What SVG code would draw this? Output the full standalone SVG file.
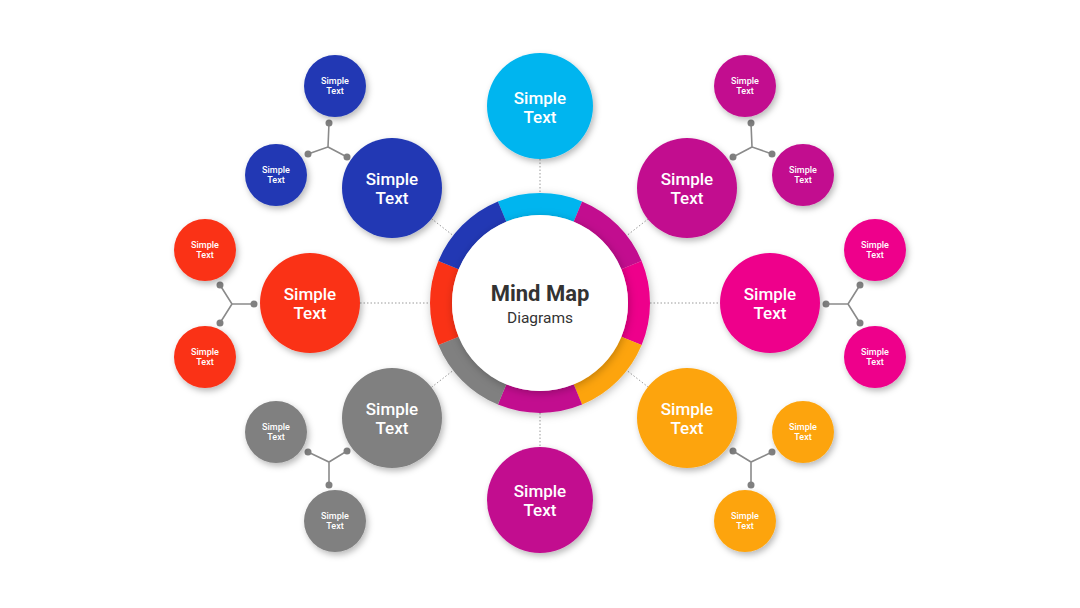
<svg xmlns="http://www.w3.org/2000/svg" width="1080" height="608" viewBox="0 0 1080 608">
<defs>
<filter id="sh" x="-30%" y="-30%" width="160%" height="160%">
<feDropShadow dx="2" dy="3" stdDeviation="3" flood-color="#000" flood-opacity="0.28"/>
</filter>
<filter id="sh2" x="-30%" y="-30%" width="160%" height="160%">
<feDropShadow dx="1" dy="2" stdDeviation="4" flood-color="#000" flood-opacity="0.25"/>
</filter>
<style>
.dot{stroke:#9a9a9a;stroke-width:1;stroke-dasharray:1.5 2;fill:none}
.yl{stroke:#8a8a8a;stroke-width:1.6;fill:none}
.jd{fill:#808080}
.big,.sm{filter:url(#sh)}
.t{font-family:Roboto,"Liberation Sans",sans-serif;font-weight:500;fill:#fff;text-anchor:middle}
.tb{font-size:17px}
.ts{font-size:9px}
.seg{fill:none;stroke-width:22}
.blue{fill:#2139B4}.cyan{fill:#00B5EF}.purp{fill:#C2118F}.pink{fill:#EE058B}.orng{fill:#FDA40C}.red{fill:#FA3119}.gray{fill:#808080}
</style>
</defs>
<rect width="1080" height="608" fill="#fff"/>
<g id="connectors">
<line class="dot" x1="540" y1="159" x2="540" y2="193"/>
<line class="dot" x1="540" y1="413" x2="540" y2="447"/>
<line class="dot" x1="360" y1="303" x2="430" y2="303"/>
<line class="dot" x1="650" y1="303" x2="720" y2="303"/>
<line class="dot" x1="431.5" y1="218.7" x2="453.1" y2="235.5"/>
<line class="dot" x1="648.5" y1="218.7" x2="626.9" y2="235.5"/>
<line class="dot" x1="431.5" y1="387.3" x2="453.1" y2="370.5"/>
<line class="dot" x1="648.5" y1="387.3" x2="626.9" y2="370.5"/>
<path class="yl" d="M329 123 L328 147 L308 154 M328 147 L347 157"/>
<circle class="jd" cx="329" cy="123" r="3.5"/><circle class="jd" cx="308" cy="154" r="3.5"/><circle class="jd" cx="347" cy="157" r="3.5"/>
<path class="yl" d="M751 123 L752 147 L772 154 M752 147 L733 157"/>
<circle class="jd" cx="751" cy="123" r="3.5"/><circle class="jd" cx="772" cy="154" r="3.5"/><circle class="jd" cx="733" cy="157" r="3.5"/>
<path class="yl" d="M220 285 L232 304 L220 323 M232 304 L254 304"/>
<circle class="jd" cx="220" cy="285" r="3.5"/><circle class="jd" cx="220" cy="323" r="3.5"/><circle class="jd" cx="254" cy="304" r="3.5"/>
<path class="yl" d="M860 285 L848 304 L860 323 M848 304 L826 304"/>
<circle class="jd" cx="860" cy="285" r="3.5"/><circle class="jd" cx="860" cy="323" r="3.5"/><circle class="jd" cx="826" cy="304" r="3.5"/>
<path class="yl" d="M733 451 L751 462 L772 452 M751 462 L751 485"/>
<circle class="jd" cx="733" cy="451" r="3.5"/><circle class="jd" cx="772" cy="452" r="3.5"/><circle class="jd" cx="751" cy="485" r="3.5"/>
<path class="yl" d="M347 451 L329 462 L308 452 M329 462 L329 485"/>
<circle class="jd" cx="347" cy="451" r="3.5"/><circle class="jd" cx="308" cy="452" r="3.5"/><circle class="jd" cx="329" cy="485" r="3.5"/>
</g>
<g id="center">
<g filter="url(#sh2)">
<path class="seg" stroke="#00B5EF" d="M502.11 211.54 A99 99 0 0 1 577.89 211.54"/>
<path class="seg" stroke="#C2118F" d="M577.89 211.54 A99 99 0 0 1 631.46 265.11"/>
<path class="seg" stroke="#EE058B" d="M631.46 265.11 A99 99 0 0 1 631.46 340.89"/>
<path class="seg" stroke="#FDA40C" d="M631.46 340.89 A99 99 0 0 1 577.89 394.46"/>
<path class="seg" stroke="#C2118F" d="M577.89 394.46 A99 99 0 0 1 502.11 394.46"/>
<path class="seg" stroke="#808080" d="M502.11 394.46 A99 99 0 0 1 448.54 340.89"/>
<path class="seg" stroke="#FA3119" d="M448.54 340.89 A99 99 0 0 1 448.54 265.11"/>
<path class="seg" stroke="#2139B4" d="M448.54 265.11 A99 99 0 0 1 502.11 211.54"/>
</g>
<circle cx="540" cy="303" r="88" fill="#fff" filter="url(#sh2)"/>
<text x="540" y="301" font-family="Roboto,'Liberation Sans',sans-serif" font-weight="700" font-size="22" fill="#333" text-anchor="middle">Mind Map</text>
<text x="540" y="323" font-family="Roboto,'Liberation Sans',sans-serif" font-size="15.5" fill="#333" text-anchor="middle">Diagrams</text>
</g>
<g id="n-top"><circle class="big cyan" cx="540" cy="106" r="53"/><text class="t tb" x="540" y="104">Simple</text><text class="t tb" x="540" y="123">Text</text></g>
<g id="n-bottom"><circle class="big purp" cx="540" cy="500" r="53"/><text class="t tb" x="540" y="497">Simple</text><text class="t tb" x="540" y="516">Text</text></g>
<g id="n-tl"><circle class="big blue" cx="392" cy="188" r="50"/><text class="t tb" x="392" y="185">Simple</text><text class="t tb" x="392" y="204">Text</text></g>
<g id="n-tr"><circle class="big purp" cx="687" cy="188" r="50"/><text class="t tb" x="687" y="185">Simple</text><text class="t tb" x="687" y="204">Text</text></g>
<g id="n-l"><circle class="big red" cx="310" cy="303" r="50"/><text class="t tb" x="310" y="300">Simple</text><text class="t tb" x="310" y="319">Text</text></g>
<g id="n-r"><circle class="big pink" cx="770" cy="303" r="50"/><text class="t tb" x="770" y="300">Simple</text><text class="t tb" x="770" y="319">Text</text></g>
<g id="n-bl"><circle class="big gray" cx="392" cy="418" r="50"/><text class="t tb" x="392" y="415">Simple</text><text class="t tb" x="392" y="434">Text</text></g>
<g id="n-br"><circle class="big orng" cx="687" cy="418" r="50"/><text class="t tb" x="687" y="415">Simple</text><text class="t tb" x="687" y="434">Text</text></g>
<g id="s-tl1"><circle class="sm blue" cx="335" cy="86" r="31"/><text class="t ts" x="335" y="84">Simple</text><text class="t ts" x="335" y="94">Text</text></g>
<g id="s-tl2"><circle class="sm blue" cx="276" cy="175" r="31"/><text class="t ts" x="276" y="173">Simple</text><text class="t ts" x="276" y="183">Text</text></g>
<g id="s-tr1"><circle class="sm purp" cx="745" cy="86" r="31"/><text class="t ts" x="745" y="84">Simple</text><text class="t ts" x="745" y="94">Text</text></g>
<g id="s-tr2"><circle class="sm purp" cx="803" cy="175" r="31"/><text class="t ts" x="803" y="173">Simple</text><text class="t ts" x="803" y="183">Text</text></g>
<g id="s-l1"><circle class="sm red" cx="205" cy="250" r="31"/><text class="t ts" x="205" y="248">Simple</text><text class="t ts" x="205" y="258">Text</text></g>
<g id="s-l2"><circle class="sm red" cx="205" cy="357" r="31"/><text class="t ts" x="205" y="355">Simple</text><text class="t ts" x="205" y="365">Text</text></g>
<g id="s-r1"><circle class="sm pink" cx="875" cy="250" r="31"/><text class="t ts" x="875" y="248">Simple</text><text class="t ts" x="875" y="258">Text</text></g>
<g id="s-r2"><circle class="sm pink" cx="875" cy="357" r="31"/><text class="t ts" x="875" y="355">Simple</text><text class="t ts" x="875" y="365">Text</text></g>
<g id="s-bl1"><circle class="sm gray" cx="276" cy="432" r="31"/><text class="t ts" x="276" y="430">Simple</text><text class="t ts" x="276" y="440">Text</text></g>
<g id="s-bl2"><circle class="sm gray" cx="335" cy="521" r="31"/><text class="t ts" x="335" y="519">Simple</text><text class="t ts" x="335" y="529">Text</text></g>
<g id="s-br1"><circle class="sm orng" cx="803" cy="432" r="31"/><text class="t ts" x="803" y="430">Simple</text><text class="t ts" x="803" y="440">Text</text></g>
<g id="s-br2"><circle class="sm orng" cx="745" cy="521" r="31"/><text class="t ts" x="745" y="519">Simple</text><text class="t ts" x="745" y="529">Text</text></g>
</svg>
